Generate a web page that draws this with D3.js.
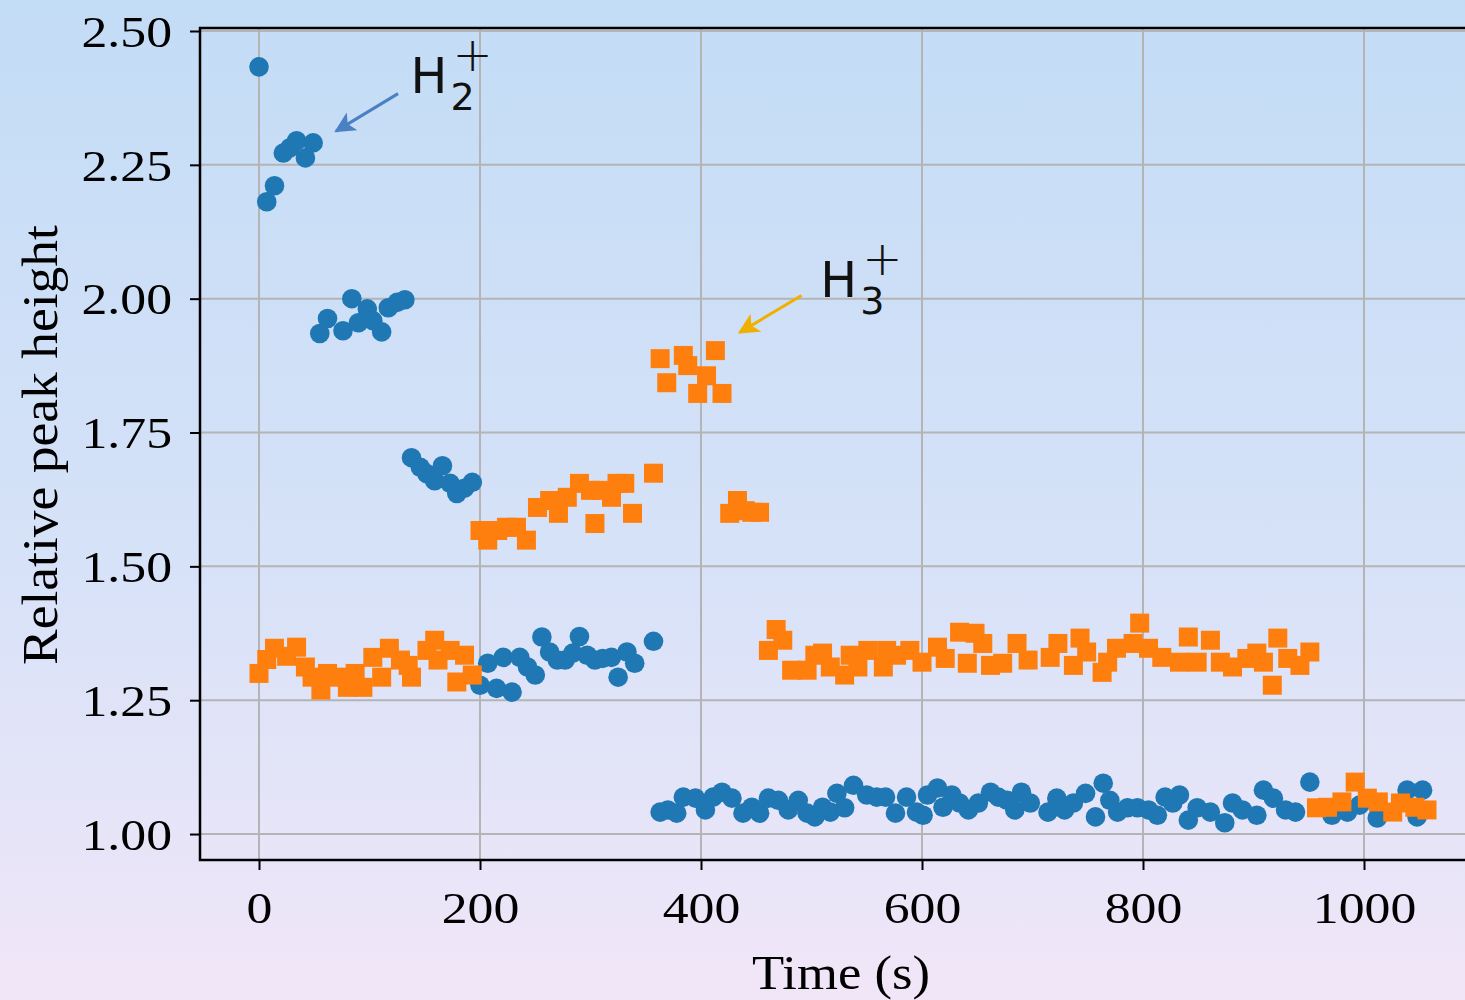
<!DOCTYPE html>
<html>
<head>
<meta charset="utf-8">
<script src="https://d3js.org/d3.v7.min.js"></script>
<style>
  html, body { margin: 0; padding: 0; }
  body { width: 1465px; height: 1000px; overflow: hidden;
         background: linear-gradient(to bottom, #c3dcf6 0%, #d6e2f8 55%, #f1e6f8 100%); }
  svg { display: block; }
</style>
</head>
<body>
<div id="chart"></div>
<script>
// H2+ series (blue circles)
const h2Time = [0, 7, 14, 22, 28, 34, 42, 49,
  55, 62, 76, 84, 90, 98, 103, 111, 117, 125, 132,
  138, 146, 152, 159, 166, 173, 179, 186, 193,
  200, 207, 215, 221, 229, 236, 243, 250, 256, 263, 270, 277, 284, 290, 297, 304, 311, 319, 325, 333, 340, 357,
  363, 370, 378, 384, 395, 404, 411, 419, 428, 438, 446, 453, 461, 470, 479, 488, 496, 503, 510, 517, 523, 530,
  538, 550, 559, 567, 576, 586, 595, 601, 605, 614, 619, 627, 634, 642, 651, 662, 669, 677, 684, 690, 698,
  714, 722, 729, 737, 748, 757, 764, 770, 777, 786, 795, 805, 813, 820, 827, 833, 841, 849, 861, 874, 881,
  890, 903, 909, 918, 929, 938, 951, 971, 985, 996, 1012, 1039, 1048, 1053];
const h2Value = [2.433, 2.181, 2.211, 2.272, 2.282, 2.295, 2.263, 2.291,
  1.935, 1.963, 1.940, 2.000, 1.955, 1.981, 1.959, 1.938, 1.983, 1.993, 1.998,
  1.703, 1.685, 1.673, 1.660, 1.688, 1.655, 1.636, 1.646, 1.657,
  1.278, 1.319, 1.272, 1.330, 1.265, 1.330, 1.312, 1.297, 1.368, 1.340, 1.325, 1.325, 1.338, 1.369, 1.334, 1.325, 1.328, 1.330, 1.293, 1.340, 1.319, 1.360,
  1.041, 1.045, 1.039, 1.069, 1.067, 1.045, 1.069, 1.078, 1.067, 1.039, 1.050, 1.039, 1.067, 1.063, 1.045, 1.063, 1.039, 1.032, 1.050, 1.041, 1.076, 1.049,
  1.091, 1.073, 1.069, 1.069, 1.039, 1.069, 1.041, 1.035, 1.073, 1.086, 1.050, 1.073, 1.058, 1.045, 1.058, 1.078, 1.069, 1.063, 1.045, 1.078, 1.058,
  1.041, 1.067, 1.045, 1.058, 1.076, 1.032, 1.095, 1.063, 1.041, 1.049, 1.049, 1.045, 1.035, 1.069, 1.058, 1.073, 1.026, 1.049, 1.041, 1.021, 1.058,
  1.045, 1.035, 1.082, 1.067, 1.045, 1.041, 1.097, 1.035, 1.041, 1.054, 1.030, 1.082, 1.032, 1.082];

// H3+ series (orange squares)
const h3Time = [0, 7, 14, 25, 34, 42, 48, 56, 62, 71, 80, 87, 94, 103, 111, 118, 128, 135, 138, 152, 159, 162, 173, 179, 186, 193,
  200, 207, 216, 224, 233, 242, 252, 263, 271, 279, 290, 300, 304, 310, 319, 324, 331, 338, 357,
  363, 369, 384, 388, 397, 405, 413, 419,
  426, 433, 440, 446, 453,
  461, 468, 474, 482, 496, 503, 510, 517, 530, 535, 542, 551, 565, 568, 577, 589, 600, 614, 621, 634, 641, 648, 655, 662, 673, 686, 696,
  716, 723, 737, 743, 749, 763, 768, 776, 791, 797, 805, 817, 833, 841, 849, 861, 870, 881, 894, 903, 909, 917, 922, 931, 942, 951,
  957, 967, 980, 992, 1003, 1013, 1026, 1033, 1046, 1057];
const h3Value = [1.300, 1.326, 1.347, 1.332, 1.349, 1.312, 1.293, 1.269, 1.300, 1.293, 1.274, 1.300, 1.274, 1.330, 1.293, 1.347, 1.325, 1.315, 1.293, 1.343, 1.362, 1.325, 1.343, 1.284, 1.334, 1.297,
  1.567, 1.549, 1.567, 1.573, 1.573, 1.549, 1.610, 1.623, 1.599, 1.629, 1.655, 1.642, 1.580, 1.642, 1.629, 1.655, 1.655, 1.599, 1.674,
  1.888, 1.843, 1.894, 1.875, 1.823, 1.856, 1.903, 1.823,
  1.599, 1.623, 1.604, 1.601, 1.601,
  1.343, 1.382, 1.362, 1.306, 1.306, 1.334, 1.338, 1.312, 1.297, 1.334, 1.312, 1.343, 1.312, 1.343, 1.334, 1.343, 1.321, 1.349, 1.328, 1.377, 1.319, 1.375, 1.356, 1.315, 1.319, 1.356, 1.325,
  1.330, 1.356, 1.315, 1.366, 1.340, 1.302, 1.321, 1.347, 1.356, 1.394, 1.347, 1.330, 1.321, 1.368, 1.321, 1.362, 1.321, 1.312, 1.328, 1.338, 1.321, 1.278, 1.366, 1.328, 1.315, 1.340,
  1.049, 1.050, 1.060, 1.097, 1.067, 1.060, 1.041, 1.058, 1.050, 1.045];

const xTicks = [0, 200, 400, 600, 800, 1000];
const yTicks = [1.00, 1.25, 1.50, 1.75, 2.00, 2.25, 2.50];

const W = 1465, H = 1000;
const plot = { left: 200, right: 1465, top: 28, bottom: 860 };

const svg = d3.select("#chart").append("svg")
  .attr("width", W).attr("height", H);

const x = d3.scaleLinear().domain([-53.4, 1091.4]).range([plot.left, plot.right]);
const y = d3.scaleLinear().domain([0.9515, 2.5056]).range([plot.bottom, plot.top]);

const serif = "'Liberation Serif', 'Times New Roman', serif";
const sans = "'DejaVu Sans', sans-serif";

// grid
svg.append("g").selectAll("line.vg").data(xTicks).enter().append("line")
  .attr("x1", d => x(d)).attr("x2", d => x(d))
  .attr("y1", plot.top).attr("y2", plot.bottom)
  .attr("stroke", "#b4b4b4").attr("stroke-width", 2);
svg.append("g").selectAll("line.hg").data(yTicks).enter().append("line")
  .attr("x1", plot.left).attr("x2", plot.right)
  .attr("y1", d => y(d)).attr("y2", d => y(d))
  .attr("stroke", "#b4b4b4").attr("stroke-width", 2);

// axes
const xAxis = svg.append("g")
  .attr("transform", `translate(0,${plot.bottom})`)
  .call(d3.axisBottom(x).tickValues(xTicks).tickSize(10).tickPadding(10).tickFormat(d3.format("d")));
const yAxis = svg.append("g")
  .attr("transform", `translate(${plot.left},0)`)
  .call(d3.axisLeft(y).tickValues(yTicks).tickSize(10).tickPadding(18).tickFormat(d3.format(".2f")));

[xAxis, yAxis].forEach(g => {
  g.select(".domain").remove();
  g.selectAll(".tick line").attr("stroke", "#000").attr("stroke-width", 2);
  g.selectAll(".tick text").attr("fill", "#000")
    .style("font-family", serif).style("font-size", "45px");
});
xAxis.selectAll(".tick text").attr("dy", "0.95em");
yAxis.selectAll(".tick text").attr("dy", "0.34em");
// labels in the reference are a little wider than plain Times
svg.selectAll(".tick text").each(function () {
  const w = this.getComputedTextLength();
  d3.select(this).attr("textLength", w * 1.15).attr("lengthAdjust", "spacingAndGlyphs");
});

// spines (left, bottom, top)
svg.append("path")
  .attr("d", `M${plot.right},${plot.top}H${plot.left}V${plot.bottom}H${plot.right}`)
  .attr("fill", "none").attr("stroke", "#000").attr("stroke-width", 2.5);

// axis titles
svg.append("text")
  .attr("x", 841).attr("y", 989)
  .attr("text-anchor", "middle")
  .attr("textLength", 178).attr("lengthAdjust", "spacingAndGlyphs")
  .style("font-family", serif).style("font-size", "48px")
  .text("Time (s)");
svg.append("text")
  .attr("transform", "translate(57,445) rotate(-90)")
  .attr("text-anchor", "middle")
  .attr("textLength", 440).attr("lengthAdjust", "spacingAndGlyphs")
  .style("font-family", serif).style("font-size", "50px")
  .text("Relative peak height");

// markers
svg.append("clipPath").attr("id", "plotclip").append("rect")
  .attr("x", plot.left).attr("y", plot.top)
  .attr("width", plot.right - plot.left).attr("height", plot.bottom - plot.top);

const h2 = h2Time.map((t, i) => ({ t, v: h2Value[i] }));
const h3 = h3Time.map((t, i) => ({ t, v: h3Value[i] }));

const marks = svg.append("g").attr("clip-path", "url(#plotclip)");
marks.selectAll("circle").data(h2).enter().append("circle")
  .attr("cx", d => x(d.t)).attr("cy", d => y(d.v)).attr("r", 9.8)
  .attr("fill", "#1f77b4");
const sq = 19;
marks.selectAll("rect").data(h3).enter().append("rect")
  .attr("x", d => x(d.t) - sq / 2).attr("y", d => y(d.v) - sq / 2)
  .attr("width", sq).attr("height", sq)
  .attr("fill", "#ff7f0e");

// annotations
const defs = svg.append("defs");
function arrowHead(id, color) {
  defs.append("marker").attr("id", id)
    .attr("viewBox", "0 0 10 10").attr("refX", 9).attr("refY", 5)
    .attr("markerWidth", 7).attr("markerHeight", 7).attr("markerUnits", "strokeWidth")
    .attr("orient", "auto")
    .append("path").attr("d", "M0,0L10,5L0,10L2.5,5Z").attr("fill", color);
}
arrowHead("arrBlue", "#4a80c4");
arrowHead("arrGold", "#f0b000");

function annotate(tip, tail, txt, sub, color, marker) {
  svg.append("line")
    .attr("x1", x(tail[0])).attr("y1", y(tail[1]))
    .attr("x2", x(tip[0])).attr("y2", y(tip[1]))
    .attr("stroke", color).attr("stroke-width", 3)
    .attr("marker-end", `url(#${marker})`);
  const tx = x(txt[0]), ty = y(txt[1]);
  // one text element: H with stacked subscript and superscript
  const t = svg.append("text").style("font-family", sans).attr("fill", "#111")
    .attr("x", tx).attr("y", ty);
  t.append("tspan").style("font-size", "49px").text("H");
  t.append("tspan").attr("x", tx + 40).attr("y", ty + 17).style("font-size", "38px").text(sub);
  t.append("tspan").attr("x", tx + 42).attr("y", ty - 22).style("font-size", "48px")
    .style("font-weight", "300").text("+");
}
annotate([69.7, 2.313], [125.8, 2.383], [137, 2.384], "2", "#4a80c4", "arrBlue");
annotate([435, 1.937], [491, 2.006], [508, 2.003], "3", "#f0b000", "arrGold");
</script>
</body>
</html>
